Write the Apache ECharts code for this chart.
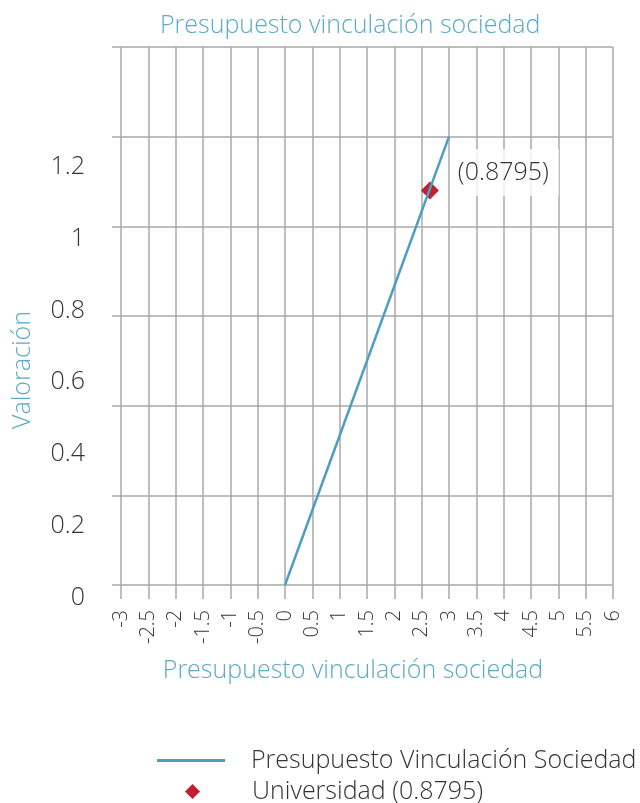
<!DOCTYPE html>
<html>
<head>
<meta charset="utf-8">
<script src="https://cdn.jsdelivr.net/npm/echarts@6/dist/echarts.min.js"></script>
<style>
html, body { margin: 0; padding: 0; background: #fff; }
#chart { width: 640px; height: 803px; }
</style>
</head>
<body>
<div id="chart"></div>
<script>
// datos
const lineX = [0, 3]
const lineY = [0, 1.25]
const uniX = [2.65]
const uniY = [1.1]
const uniLabel = '(0.8795)'
const yTickLabels = ['0', '0.2', '0.4', '0.6', '0.8', '1', '1.2']
const seriesNames = ['Presupuesto Vinculación Sociedad', 'Universidad (0.8795)']

const blue = '#5aaac8'
const lineColor = '#4d9ec0'
const red = '#c1202f'
const gridColor = '#a9a9a9'
const font = 'Open Sans'
const weight = 300

let chart = echarts.init(document.getElementById('chart'))
let legendText = { color: '#333', fontSize: 25, fontFamily: font, fontWeight: weight, padding: [0, 0, 0, 21] }
let option = {
    backgroundColor: '#fff',
    animation: false,
    title: {
        text: 'Presupuesto vinculación sociedad',
        left: 155,
        top: 8,
        textStyle: { color: blue, fontSize: 25, fontWeight: weight, fontFamily: font }
    },
    legend: [
        {
            left: 152,
            top: 743,
            itemWidth: 68,
            itemHeight: 3,
            textStyle: legendText,
            data: [{ name: seriesNames[0], icon: 'rect' }]
        },
        {
            left: 180,
            top: 774,
            itemWidth: 15,
            itemHeight: 15,
            textStyle: Object.assign({}, legendText, { padding: [0, 0, 0, 47] }),
            data: [{ name: seriesNames[1], icon: 'diamond' }]
        }
    ],
    grid: { left: 121, right: 27, top: 47, bottom: 218 },
    xAxis: {
        type: 'value',
        min: -3,
        max: 6,
        interval: 0.5,
        name: 'Presupuesto vinculación sociedad',
        nameLocation: 'middle',
        nameGap: 73,
        nameTextStyle: { color: blue, fontSize: 25, fontFamily: font, fontWeight: weight, padding: [0, 28, 0, 0] },
        axisLine: { show: false, onZero: false },
        axisTick: { show: true, length: 14, lineStyle: { color: gridColor, width: 1.5 } },
        axisLabel: { rotate: 90, margin: 25, color: '#333', fontSize: 20, fontFamily: font, fontWeight: weight },
        splitLine: { show: true, lineStyle: { color: gridColor, width: 1.5 } }
    },
    yAxis: [
        {
            type: 'value',
            min: 0,
            max: 1.5,
            interval: 0.25,
            position: 'left',
            name: 'Valoración',
            nameLocation: 'middle',
            nameGap: 86,
            nameTextStyle: { color: blue, fontSize: 25, fontFamily: font, fontWeight: weight, padding: [0, 108, 0, 0] },
            axisLine: { show: false, onZero: false },
            axisTick: { show: true, length: 9, lineStyle: { color: gridColor, width: 1.5 } },
            axisLabel: { show: false },
            splitLine: { show: true, lineStyle: { color: gridColor, width: 1.5 } }
        },
        {
            type: 'value',
            min: 0,
            max: 1.5,
            interval: 0.2,
            position: 'left',
            axisLine: { show: false, onZero: false },
            axisTick: { show: false },
            splitLine: { show: false },
            axisLabel: {
                margin: 36,
                color: '#333',
                fontSize: 25,
                fontFamily: font,
                fontWeight: weight,
                verticalAlign: 'top',
                formatter: (v) => {
                    let i = Math.round(v / 0.2)
                    return yTickLabels[i] || ''
                }
            }
        }
    ],
    series: [
        {
            name: seriesNames[0],
            type: 'line',
            yAxisIndex: 0,
            symbol: 'none',
            lineStyle: { color: lineColor, width: 2.5 },
            itemStyle: { color: lineColor },
            data: lineX.map((x, i) => [x, lineY[i]])
        },
        {
            name: seriesNames[1],
            type: 'scatter',
            yAxisIndex: 0,
            symbol: 'diamond',
            symbolSize: 18,
            itemStyle: { color: red, opacity: 1 },
            label: {
                show: true,
                position: 'right',
                distance: 12,
                offset: [0, -18],
                formatter: () => uniLabel,
                color: '#333',
                fontSize: 25,
                fontFamily: font,
                fontWeight: weight,
                backgroundColor: 'rgba(255,255,255,0.8)',
                padding: [11, 10, 11, 7]
            },
            data: uniX.map((x, i) => [x, uniY[i]])
        }
    ]
}
chart.setOption(option)
window.addEventListener('resize', () => {
    chart.resize()
})
</script>
</body>
</html>
